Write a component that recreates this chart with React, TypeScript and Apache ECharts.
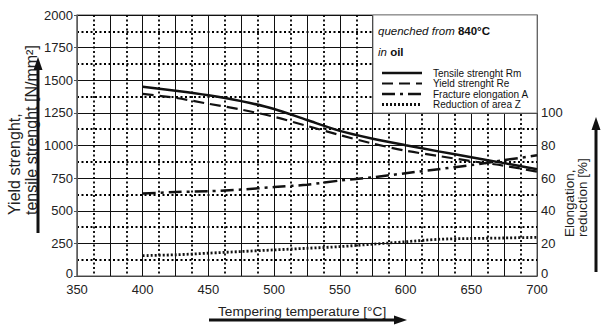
import React, { useEffect, useRef } from 'react';
import * as echarts from 'echarts';

const temperatures = [400, 425, 450, 475, 500, 525, 550, 575, 600, 625, 650, 675, 700];
const tensileRm = [1450, 1420, 1385, 1340, 1280, 1195, 1112, 1052, 1002, 955, 910, 865, 818];
const yieldRe = [1395, 1365, 1320, 1275, 1220, 1150, 1080, 1015, 960, 920, 880, 845, 800];
const fractureA = [50.5, 51.5, 52, 53, 54.5, 56, 58.5, 60.5, 63, 65.5, 68, 71, 74];
const reductionZ = [12.5, 13, 14, 15, 16, 17, 18, 19.5, 21, 22.5, 23, 23.3, 23.7];
const seriesNames = ['Tensile strenght Rm', 'Yield strenght Re', 'Fracture elongation A', 'Reduction of area Z'];
const seriesDash: (number[] | null)[] = [null, [11, 6], [13, 5, 3, 5], [2, 2]];
const seriesWidth = [2.5, 2.2, 2.5, 2.8];

const FONT = 'Arial, "Liberation Sans", sans-serif';
const INK = '#111';

const pairs = (ys: number[]) => temperatures.map((t, i) => [t, ys[i]]);

export default function App() {
  const ref = useRef<HTMLDivElement>(null);
  useEffect(() => {
    if (!ref.current) return;
    const chart = echarts.init(ref.current, undefined, { renderer: 'svg' });
    const dotted = { color: '#000', width: 1.8, type: [2, 2.5] as any };
    const seriesData = [pairs(tensileRm), pairs(yieldRe), pairs(fractureA), pairs(reductionZ)];
    const legendRows = [73, 83.5, 94, 104.5];
    const legendGraphics: any[] = [];
    seriesNames.forEach((name, i) => {
      legendGraphics.push({
        type: 'line', z: 6, shape: { x1: 382, y1: legendRows[i], x2: 422, y2: legendRows[i] },
        style: { stroke: INK, lineWidth: seriesWidth[i], lineDash: seriesDash[i] || undefined },
      });
      legendGraphics.push({
        type: 'text', z: 6, x: 433, y: legendRows[i],
        style: { text: name, fill: INK, font: `10px ${FONT}`, textAlign: 'left', textVerticalAlign: 'middle' },
      });
    });
    chart.setOption({
      animation: false,
      backgroundColor: '#fff',
      grid: { left: 77, top: 15, width: 460, height: 261, show: true, borderColor: '#555', borderWidth: 1 },
      xAxis: {
        type: 'value', min: 350, max: 700, interval: 25,
        axisLine: { show: true, lineStyle: { color: '#444', width: 1 } },
        axisTick: { show: false },
        axisLabel: {
          fontSize: 13, color: '#222', fontFamily: FONT, margin: 7,
          formatter: (v: number) => (v % 50 === 0 ? String(v) : ''),
        },
        splitLine: { show: true, lineStyle: { color: INK, width: 1 } },
        minorTick: { show: false, splitNumber: 2 },
        minorSplitLine: { show: true, lineStyle: dotted },
      },
      yAxis: [
        {
          type: 'value', min: 0, max: 2000, interval: 250,
          axisLine: { show: true, lineStyle: { color: '#777', width: 1.5 } },
          axisTick: { show: true, length: 3, lineStyle: { color: '#555' } },
          axisLabel: {
            fontSize: 13, color: '#222', fontFamily: FONT, margin: 4,
            formatter: (v: number) => (v === 0 ? '{z|0}' : String(v)),
            rich: { z: { fontSize: 13, fontFamily: FONT, color: '#222', padding: [0, 0, 5, 0] } },
          },
          splitLine: { show: true, lineStyle: { color: INK, width: 1 } },
          minorTick: { show: false, splitNumber: 2 },
          minorSplitLine: { show: true, lineStyle: dotted },
        },
        {
          type: 'value', min: 0, max: 160, interval: 20, position: 'right',
          axisLine: { show: true, lineStyle: { color: '#444', width: 1 } },
          axisTick: { show: false },
          axisLabel: {
            fontSize: 13, color: '#222', fontFamily: FONT, margin: 4,
            formatter: (v: number) => (v === 0 ? '{z|0}' : v <= 100 ? String(v) : ''),
            rich: { z: { fontSize: 13, fontFamily: FONT, color: '#222', padding: [0, 0, 5, 0] } },
          },
          splitLine: { show: false },
        },
      ],
      series: seriesNames.map((name, i) => ({
        name, type: 'line', data: seriesData[i], yAxisIndex: i < 2 ? 0 : 1,
        symbol: 'none', smooth: 0.3, z: 3,
        lineStyle: { color: INK, width: seriesWidth[i], type: seriesDash[i] || 'solid' },
        itemStyle: { color: INK },
      })),
      graphic: [
        { type: 'rect', z: 4, shape: { x: 373, y: 15, width: 164, height: 98 }, style: { fill: '#fff', stroke: '#888', lineWidth: 1 } },
        {
          type: 'text', z: 6, x: 378, y: 31,
          style: {
            text: '{i|quenched from} {b|840°C}', fill: INK, font: `11.5px ${FONT}`, textVerticalAlign: 'middle',
            rich: { i: { fontStyle: 'italic', fontSize: 11.5, fontFamily: FONT }, b: { fontWeight: 'bold', fontSize: 11.5, fontFamily: FONT } },
          },
        },
        {
          type: 'text', z: 6, x: 378, y: 52,
          style: {
            text: '{i|in} {b|oil}', fill: INK, font: `11.5px ${FONT}`, textVerticalAlign: 'middle',
            rich: { i: { fontStyle: 'italic', fontSize: 11.5, fontFamily: FONT }, b: { fontWeight: 'bold', fontSize: 11.5, fontFamily: FONT } },
          },
        },
        ...legendGraphics,
        // left title
        { type: 'text', x: 14, y: 215, rotation: Math.PI / 2, style: { text: 'Yield strenght,', fill: '#222', font: `16px ${FONT}`, textAlign: 'left', textVerticalAlign: 'middle' } },
        { type: 'text', x: 31, y: 215, rotation: Math.PI / 2, style: { text: 'tensile strenght [N/mm²]', fill: '#222', font: `16px ${FONT}`, textAlign: 'left', textVerticalAlign: 'middle' } },
        // right title
        { type: 'text', x: 569, y: 237, rotation: Math.PI / 2, style: { text: 'Elongation,', fill: '#222', font: `13.5px ${FONT}`, textAlign: 'left', textVerticalAlign: 'middle' } },
        { type: 'text', x: 582, y: 237, rotation: Math.PI / 2, style: { text: 'reduction [%]', fill: '#222', font: `13.5px ${FONT}`, textAlign: 'left', textVerticalAlign: 'middle' } },
        // bottom title
        { type: 'text', x: 218, y: 311, style: { text: 'Tempering temperature [°C]', fill: '#222', font: `13.7px ${FONT}`, textAlign: 'left', textVerticalAlign: 'middle' } },
        // arrows
        { type: 'line', shape: { x1: 38, y1: 233, x2: 38, y2: 68 }, style: { stroke: '#111', lineWidth: 3 } },
        { type: 'polygon', shape: { points: [[38, 57], [33.5, 70], [42.5, 70]] }, style: { fill: '#111' } },
        { type: 'line', shape: { x1: 596, y1: 272, x2: 596, y2: 128 }, style: { stroke: '#111', lineWidth: 3 } },
        { type: 'polygon', shape: { points: [[596, 117], [591.5, 130], [600.5, 130]] }, style: { fill: '#111' } },
        { type: 'line', shape: { x1: 209, y1: 320, x2: 396, y2: 320 }, style: { stroke: '#111', lineWidth: 3 } },
        { type: 'polygon', shape: { points: [[407, 320], [394, 315.5], [394, 324.5]] }, style: { fill: '#111' } },
      ],
    });
    return () => chart.dispose();
  }, []);
  return <div ref={ref} style={{ position: 'fixed', left: 0, top: 0, width: 606, height: 332, background: '#fff' }} />;
}
